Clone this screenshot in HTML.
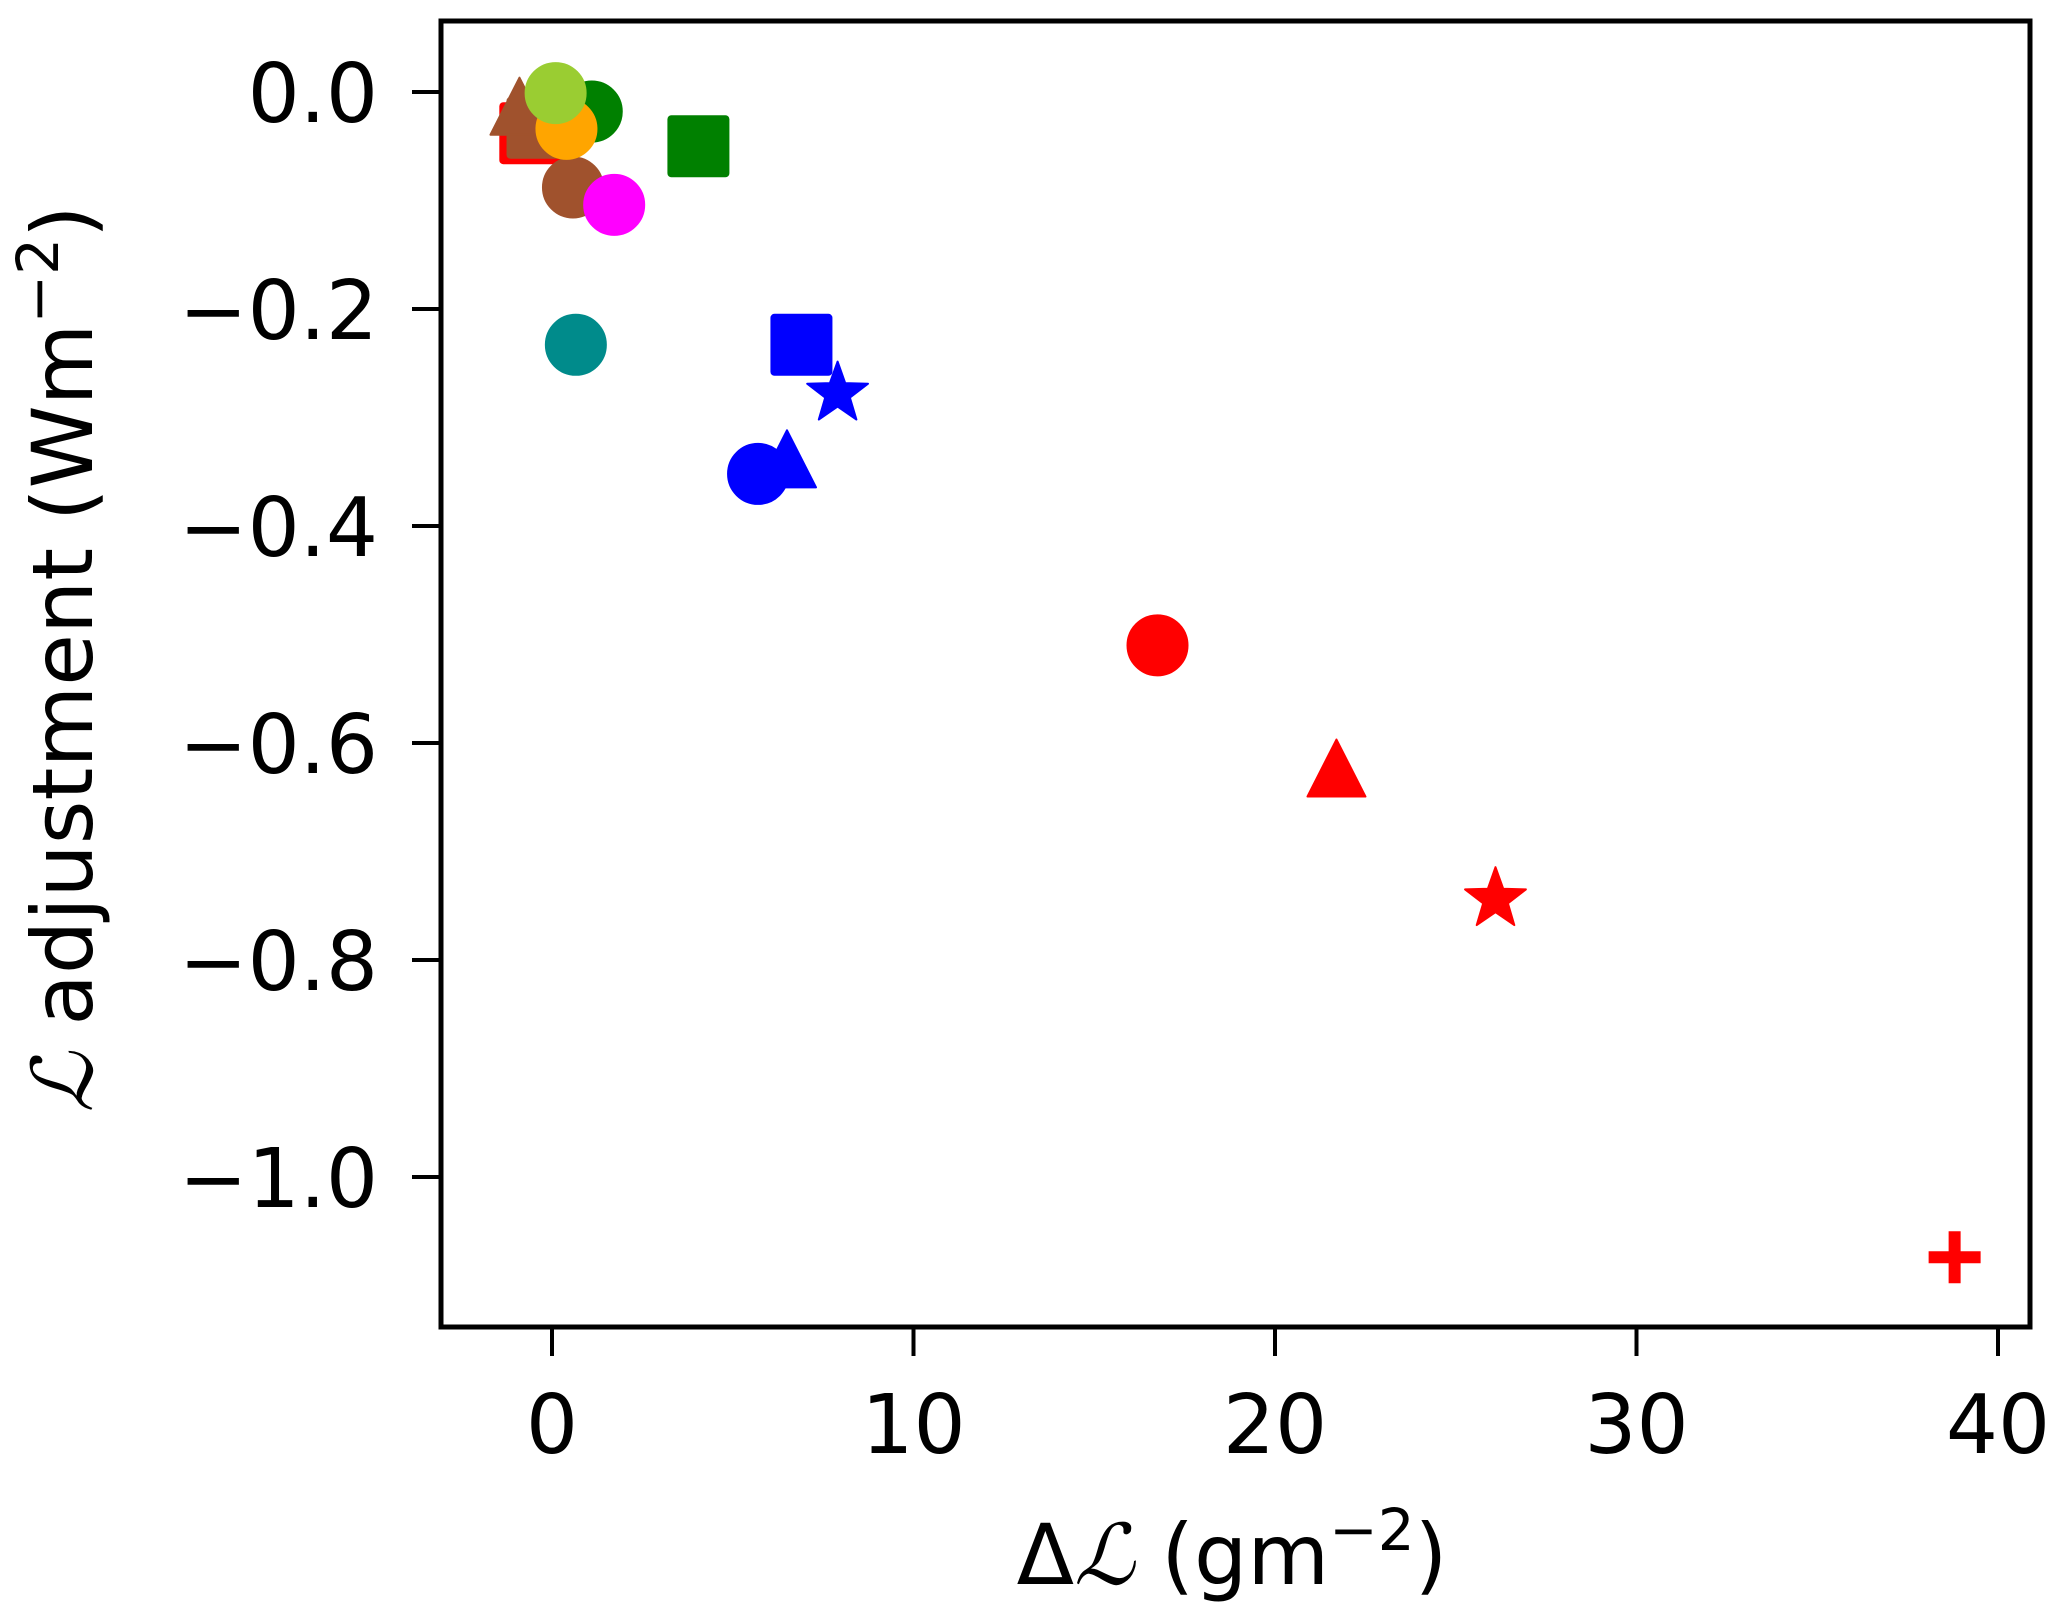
<!DOCTYPE html>
<html><head><meta charset="utf-8"><style>
html,body{margin:0;padding:0;background:#fff}
svg{display:block}
text{font-family:"DejaVu Sans","Liberation Sans",sans-serif;fill:#000}
</style></head><body>
<svg id="chart" width="2067" height="1623" viewBox="0 0 2067 1623" xmlns="http://www.w3.org/2000/svg">
<rect x="441" y="21" width="1589" height="1306" fill="#fff" stroke="none"/>
<g id="marks"></g>
<rect x="441" y="21" width="1589" height="1306" fill="none" stroke="#000" stroke-width="5"/>
<g id="xticks"></g>
<g id="yticks"></g>
<text x="1232" y="1584" font-size="84" text-anchor="middle">Δ<tspan font-family="'DejaVu Serif',serif" font-style="italic">ℒ</tspan> (gm<tspan dy="-34" font-size="58">−2</tspan><tspan dy="34">)</tspan></text>
<text transform="translate(92,659) rotate(-90)" font-size="84" text-anchor="middle"><tspan font-family="'DejaVu Serif',serif" font-style="italic">ℒ</tspan> adjustment (Wm<tspan dy="-34" font-size="58">−2</tspan><tspan dy="34">)</tspan></text>
</svg>
<script>
const xTicks=[0,10,20,30,40];
const yTicks=[0.0,-0.2,-0.4,-0.6,-0.8,-1.0];
const yTickLabels=["0.0","−0.2","−0.4","−0.6","−0.8","−1.0"];
const xVals=[38.8,26.1,21.7,16.75,7.9,6.9,6.5,5.7,0.66,-0.6,-0.4,-0.9,0.58,1.72,4.05,1.1,0.4,0.1];
const yVals=[-1.074,-0.744,-0.63,-0.51,-0.278,-0.233,-0.345,-0.352,-0.233,-0.038,-0.033,-0.02,-0.088,-0.104,-0.05,-0.018,-0.034,-0.001];
const shapes=["plus","star","triangle","circle","star","square","triangle","circle","circle","square","square","triangle","circle","circle","square","circle","circle","circle"];
const colors=["#ff0000","#ff0000","#ff0000","#ff0000","#0000ff","#0000ff","#0000ff","#0000ff","#008b8b","#ff0000","#a0522d","#a0522d","#a0522d","#ff00ff","#008000","#008000","#ffa500","#9acd32"];
const NS="http://www.w3.org/2000/svg";
function sx(v){return 552+v*36.15;}
function sy(v){return 92-v*1085;}
const xg=document.getElementById('xticks');
xTicks.forEach(t=>{
 const l=document.createElementNS(NS,'line');
 
 
 l.setAttribute('x1',sx(t));l.setAttribute('x2',sx(t));l.setAttribute('y1',1329);l.setAttribute('y2',1356);
 l.setAttribute('stroke','#000');l.setAttribute('stroke-width',4);xg.appendChild(l);
 const tx=document.createElementNS(NS,'text');
 
 
 tx.setAttribute('x',sx(t));tx.setAttribute('y',1453);tx.setAttribute('font-size',82);tx.setAttribute('text-anchor','middle');
 tx.textContent=t;xg.appendChild(tx);
});
const yg=document.getElementById('yticks');
yTicks.forEach((t,i)=>{
 const l=document.createElementNS(NS,'line');
 
 
 l.setAttribute('x1',412);l.setAttribute('x2',439);l.setAttribute('y1',sy(t));l.setAttribute('y2',sy(t));
 l.setAttribute('stroke','#000');l.setAttribute('stroke-width',4);yg.appendChild(l);
 const tx=document.createElementNS(NS,'text');
 
 
 tx.setAttribute('x',378);tx.setAttribute('y',sy(t)+30);tx.setAttribute('font-size',82);tx.setAttribute('text-anchor','end');
 tx.textContent=yTickLabels[i];yg.appendChild(tx);
});
const mg=document.getElementById('marks');
function starPts(cx,cy,R,r){let p=[];for(let k=0;k<10;k++){const a=-Math.PI/2+k*Math.PI/5;const rr=k%2?r:R;p.push((cx+rr*Math.cos(a)).toFixed(1)+','+(cy+rr*Math.sin(a)).toFixed(1));}return p.join(' ');}
const order=[9,10,11,0,1,2,3,7,6,5,4,8,14,12,13,15,16,17];
order.forEach(i=>{
 const cx=sx(xVals[i]),cy=sy(yVals[i]),c=colors[i];let el;
 if(shapes[i]==='circle'){el=document.createElementNS(NS,'circle');el.setAttribute('cx',cx);el.setAttribute('cy',cy);el.setAttribute('r',30);}
 else if(shapes[i]==='square'){el=document.createElementNS(NS,'rect');el.setAttribute('x',cx-30);el.setAttribute('y',cy-30);el.setAttribute('width',60);el.setAttribute('height',60);el.setAttribute('rx',3);}
 else if(shapes[i]==='triangle'){el=document.createElementNS(NS,'polygon');el.setAttribute('points',`${cx},${cy-36} ${cx+29},${cy+21} ${cx-29},${cy+21}`);el.setAttribute('stroke-linejoin','round');}
 else if(shapes[i]==='star'){el=document.createElementNS(NS,'polygon');el.setAttribute('points',starPts(cx,cy,32,13));el.setAttribute('stroke-linejoin','round');}
 else {el=document.createElementNS(NS,'path');el.setAttribute('d',`M${cx-26},${cy}H${cx+26}M${cx},${cy-26}V${cy+26}`);el.setAttribute('stroke',c);el.setAttribute('stroke-width',12);el.setAttribute('fill','none');}
 if(shapes[i]!=='plus'){el.setAttribute('fill',c);el.setAttribute('stroke',c);el.setAttribute('stroke-width',2);}
 
 
 mg.appendChild(el);
});
</script>
</body></html>
